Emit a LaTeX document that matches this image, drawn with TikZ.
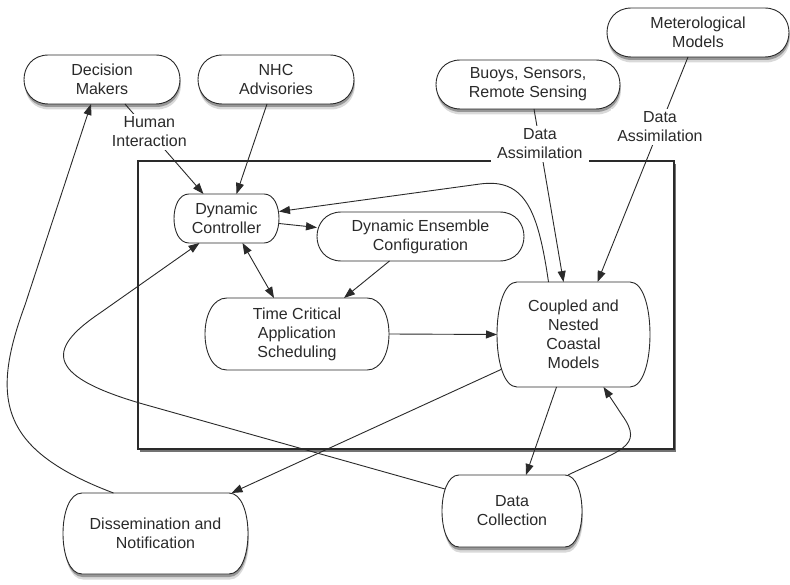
\documentclass[tikz,border=0pt]{standalone}
\usepackage{fontspec}
\setmainfont{Liberation Sans}
\usetikzlibrary{arrows.meta,shadows}
\pgfdeclarelayer{bg}
\pgfsetlayers{bg,main}
\definecolor{ink}{HTML}{2A2A2A}
\tikzset{
  txt/.style={font=\fontsize{16}{19}\selectfont, text=ink, align=center},
  box/.style={txt, draw=none, inner sep=0pt, outer sep=0pt},
  edgelabel/.style={txt, fill=white, inner xsep=6pt, inner ysep=3pt},
  shp/.style={draw=ink, line width=0.9pt, fill=white},
  shadowed/.style={drop shadow={shadow xshift=0.5pt, shadow yshift=-3pt, opacity=0.3, fill=black},
                   drop shadow={shadow xshift=1pt, shadow yshift=-5.5pt, opacity=0.15, fill=black}},
  frame/.style={draw=ink, line width=1.2pt, fill=white,
                drop shadow={shadow xshift=2pt, shadow yshift=-3pt, opacity=0.55, fill=black}},
  conn/.style={draw=ink, line width=0.9pt, -{Triangle[length=11pt,width=8pt]}},
  connboth/.style={draw=ink, line width=0.9pt, {Triangle[length=11pt,width=8pt]}-{Triangle[length=11pt,width=8pt]}}
}
\newcommand\bulgeshape[3]{%
  \path[#1] ([xshift=#3pt]#2.north west) -- ([xshift=-#3pt]#2.north east)
    .. controls +({4*#3/3},0) and +({4*#3/3},0) .. ([xshift=-#3pt]#2.south east)
    -- ([xshift=#3pt]#2.south west)
    .. controls +({-4*#3/3},0) and +({-4*#3/3},0) .. ([xshift=#3pt]#2.north west) -- cycle;}
\begin{document}
\begin{tikzpicture}[x=1pt,y=-1pt]
\useasboundingbox (0,0) rectangle (790,585);
% nodes (text)
\node[box, minimum width=156pt, minimum height=49pt] (dm) at (102,79.5) {Decision\\Makers};
\node[box, minimum width=156pt, minimum height=49pt] (nhc) at (276,79.5) {NHC\\Advisories};
\node[box, minimum width=184pt, minimum height=49pt] (buoys) at (528,84.5) {Buoys, Sensors,\\Remote Sensing};
\node[box, minimum width=182pt, minimum height=49pt] (met) at (698,32.5) {Meterological\\Models};
\node[box, minimum width=105pt, minimum height=49pt] (dc) at (226.5,218.5) {Dynamic\\Controller};
\node[box, minimum width=207pt, minimum height=49pt] (dec) at (420.5,236.5) {Dynamic Ensemble\\Configuration};
\node[box, minimum width=184pt, minimum height=72pt] (tc) at (297,334) {Time Critical\\Application\\Scheduling};
\node[box, minimum width=153pt, minimum height=105pt] (cm) at (573.5,334.5) {Coupled and\\Nested\\Coastal\\Models};
\node[box, minimum width=140pt, minimum height=72pt] (dcoll) at (512,511) {Data\\Collection};
\node[box, minimum width=185pt, minimum height=81pt] (diss) at (155.5,533.5) {Dissemination and\\Notification};
% shapes on background layer
\begin{pgfonlayer}{bg}
\fill[white] (0,0) rectangle (790,585);
\path[frame] (138,161) rectangle (674,449);
\bulgeshape{shp,shadowed}{dm}{24.5}
\bulgeshape{shp,shadowed}{nhc}{24.5}
\bulgeshape{shp,shadowed}{buoys}{24.5}
\bulgeshape{shp,shadowed}{met}{24.5}
\bulgeshape{shp}{dc}{15}
\bulgeshape{shp}{dec}{24.5}
\bulgeshape{shp}{tc}{22}
\bulgeshape{shp}{cm}{20}
\bulgeshape{shp,shadowed}{dcoll}{17}
\bulgeshape{shp,shadowed}{diss}{19}
\end{pgfonlayer}
% connectors
\draw[conn] ([xshift=23pt]dm.south) -- node[edgelabel,pos=0.31] (hi) {Human\\Interaction} ([xshift=-23pt]dc.north);
\draw[conn] ([xshift=-9pt]nhc.south) -- ([xshift=10pt]dc.north);
\draw[conn] ([xshift=6pt]buoys.south) -- node[edgelabel,pos=0.2] (da1) {Data\\Assimilation} ([xshift=-10pt]cm.north);
\draw[conn] ([xshift=-10pt]met.south) -- node[edgelabel,pos=0.31] (da2) {Data\\Assimilation} ([xshift=24pt]cm.north);
\draw[conn] ([xshift=-25pt]cm.north) .. controls (538,210) and (525,178) .. (480,184) -- ([yshift=7pt]dc.east);
\draw[conn] ([yshift=-5pt]dc.east) -- ([yshift=9pt]dec.west);
\draw[connboth] ([xshift=16pt]dc.south) -- ([xshift=-23pt]tc.north);
\draw[conn] ([xshift=-31pt]dec.south) -- ([xshift=47pt]tc.north);
\draw[conn] (tc.east) -- (cm.west);
\draw[conn] ([shift={(4pt,-35pt)}]cm.west) -- ([xshift=76pt]diss.north);
\draw[conn] ([xshift=-17pt]cm.south) -- ([xshift=14pt]dcoll.north);
\draw[conn] ([xshift=56pt]dcoll.north) .. controls (620,450) and (645,447) .. (622,415) -- ([xshift=30pt]cm.south);
\draw[conn] ([shift={(3pt,22pt)}]dcoll.west) -- (150,406) .. controls (45,377) and (45,350) .. (100,313) -- ([xshift=-27pt]dc.south);
\draw[conn] ([xshift=-42pt]diss.north) .. controls (0,450) and (-10,400) .. (25,305) -- ([xshift=-11pt]dm.south);
\end{tikzpicture}
\end{document}
